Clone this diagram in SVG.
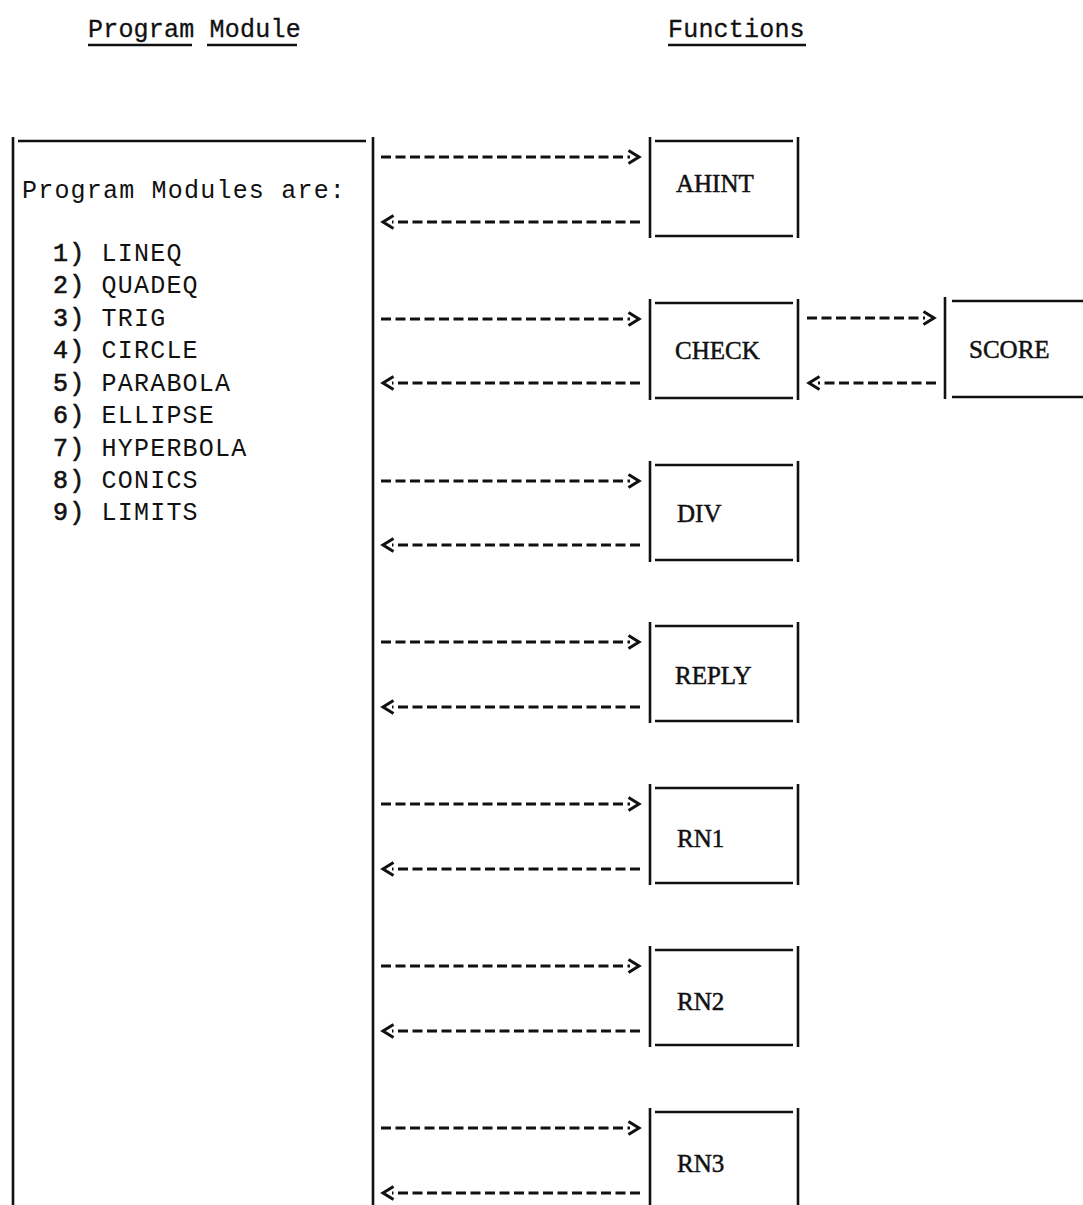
<svg xmlns="http://www.w3.org/2000/svg" width="1083" height="1205" viewBox="0 0 1083 1205">
<style>
.ln{stroke:#111;stroke-width:2.6;fill:none;stroke-linecap:butt}
.dash{stroke:#111;stroke-width:3;fill:none;stroke-dasharray:10 4.5}
.hd{font-family:"Liberation Mono",monospace;font-size:25px;letter-spacing:0.2px;fill:#111;stroke:#111;stroke-width:0.3}
.tw{font-family:"Liberation Mono",monospace;font-size:25px;letter-spacing:1.2px;fill:#111}
.num{stroke:#111;stroke-width:0.6}
.lbl{font-family:"Liberation Serif",serif;font-size:25px;fill:#111;stroke:#111;stroke-width:0.5}
</style>
<defs>
<marker id="chev" markerUnits="userSpaceOnUse" markerWidth="16" markerHeight="18" viewBox="0 0 16 18" refX="3" refY="8" orient="auto">
<path d="M1.5,1.5 L12,8 L1.5,14.5" fill="none" stroke="#111" stroke-width="3"/>
</marker>
</defs>
<rect width="1083" height="1205" fill="#fff"/>

<g id="headings">
<text class="hd" x="88" y="37">Program Module</text>
<line class="ln" x1="88" y1="45" x2="192" y2="45"/>
<line class="ln" x1="207" y1="45" x2="297" y2="45"/>
<text class="hd" x="668" y="37">Functions</text>
<line class="ln" x1="668" y1="45" x2="806" y2="45"/>
</g>

<g id="node-program-modules">
<line class="ln" x1="13" y1="137" x2="13" y2="1205"/>
<line class="ln" x1="373" y1="137" x2="373" y2="1205"/>
<line class="ln" x1="18" y1="141" x2="366" y2="141"/>
<text class="tw" x="22" y="198">Program Modules are:</text>
<text class="tw" x="53" y="261"><tspan class="num">1)</tspan> LINEQ</text>
<text class="tw" x="53" y="293"><tspan class="num">2)</tspan> QUADEQ</text>
<text class="tw" x="53" y="326"><tspan class="num">3)</tspan> TRIG</text>
<text class="tw" x="53" y="358"><tspan class="num">4)</tspan> CIRCLE</text>
<text class="tw" x="53" y="391"><tspan class="num">5)</tspan> PARABOLA</text>
<text class="tw" x="53" y="423"><tspan class="num">6)</tspan> ELLIPSE</text>
<text class="tw" x="53" y="456"><tspan class="num">7)</tspan> HYPERBOLA</text>
<text class="tw" x="53" y="488"><tspan class="num">8)</tspan> CONICS</text>
<text class="tw" x="53" y="520"><tspan class="num">9)</tspan> LIMITS</text>
</g>

<g id="node-ahint">
<line class="ln" x1="650" y1="137" x2="650" y2="238"/>
<line class="ln" x1="798" y1="137" x2="798" y2="238"/>
<line class="ln" x1="655" y1="141" x2="793" y2="141"/>
<line class="ln" x1="655" y1="236" x2="793" y2="236"/>
<text class="lbl" x="676" y="192">AHINT</text>
</g>

<g id="node-check">
<line class="ln" x1="650" y1="299" x2="650" y2="400"/>
<line class="ln" x1="798" y1="299" x2="798" y2="400"/>
<line class="ln" x1="655" y1="303" x2="793" y2="303"/>
<line class="ln" x1="655" y1="398" x2="793" y2="398"/>
<text class="lbl" x="675" y="359">CHECK</text>
</g>

<g id="node-score">
<line class="ln" x1="945" y1="297" x2="945" y2="399"/>
<line class="ln" x1="952" y1="301" x2="1083" y2="301"/>
<line class="ln" x1="952" y1="397" x2="1083" y2="397"/>
<text class="lbl" x="969" y="358">SCORE</text>
</g>

<g id="node-div">
<line class="ln" x1="650" y1="461" x2="650" y2="562"/>
<line class="ln" x1="798" y1="461" x2="798" y2="562"/>
<line class="ln" x1="655" y1="465" x2="793" y2="465"/>
<line class="ln" x1="655" y1="560" x2="793" y2="560"/>
<text class="lbl" x="677" y="522">DIV</text>
</g>

<g id="node-reply">
<line class="ln" x1="650" y1="622" x2="650" y2="723"/>
<line class="ln" x1="798" y1="622" x2="798" y2="723"/>
<line class="ln" x1="655" y1="626" x2="793" y2="626"/>
<line class="ln" x1="655" y1="721" x2="793" y2="721"/>
<text class="lbl" x="675" y="684">REPLY</text>
</g>

<g id="node-rn1">
<line class="ln" x1="650" y1="784" x2="650" y2="885"/>
<line class="ln" x1="798" y1="784" x2="798" y2="885"/>
<line class="ln" x1="655" y1="788" x2="793" y2="788"/>
<line class="ln" x1="655" y1="883" x2="793" y2="883"/>
<text class="lbl" x="677" y="847">RN1</text>
</g>

<g id="node-rn2">
<line class="ln" x1="650" y1="946" x2="650" y2="1047"/>
<line class="ln" x1="798" y1="946" x2="798" y2="1047"/>
<line class="ln" x1="655" y1="950" x2="793" y2="950"/>
<line class="ln" x1="655" y1="1045" x2="793" y2="1045"/>
<text class="lbl" x="677" y="1010">RN2</text>
</g>

<g id="node-rn3">
<line class="ln" x1="650" y1="1108" x2="650" y2="1205"/>
<line class="ln" x1="798" y1="1108" x2="798" y2="1205"/>
<line class="ln" x1="655" y1="1112" x2="793" y2="1112"/>
<text class="lbl" x="677" y="1172">RN3</text>
</g>

<g id="connectors">
<line class="dash" x1="381" y1="157" x2="630" y2="157" marker-end="url(#chev)"/>
<line class="dash" x1="640" y1="222" x2="392" y2="222" marker-end="url(#chev)"/>
<line class="dash" x1="381" y1="319" x2="630" y2="319" marker-end="url(#chev)"/>
<line class="dash" x1="640" y1="383" x2="392" y2="383" marker-end="url(#chev)"/>
<line class="dash" x1="807" y1="318" x2="925" y2="318" marker-end="url(#chev)"/>
<line class="dash" x1="936" y1="383" x2="818" y2="383" marker-end="url(#chev)"/>
<line class="dash" x1="381" y1="481" x2="630" y2="481" marker-end="url(#chev)"/>
<line class="dash" x1="640" y1="545" x2="392" y2="545" marker-end="url(#chev)"/>
<line class="dash" x1="381" y1="642" x2="630" y2="642" marker-end="url(#chev)"/>
<line class="dash" x1="640" y1="707" x2="392" y2="707" marker-end="url(#chev)"/>
<line class="dash" x1="381" y1="804" x2="630" y2="804" marker-end="url(#chev)"/>
<line class="dash" x1="640" y1="869" x2="392" y2="869" marker-end="url(#chev)"/>
<line class="dash" x1="381" y1="966" x2="630" y2="966" marker-end="url(#chev)"/>
<line class="dash" x1="640" y1="1031" x2="392" y2="1031" marker-end="url(#chev)"/>
<line class="dash" x1="381" y1="1128" x2="630" y2="1128" marker-end="url(#chev)"/>
<line class="dash" x1="640" y1="1193" x2="392" y2="1193" marker-end="url(#chev)"/>
</g>
</svg>
